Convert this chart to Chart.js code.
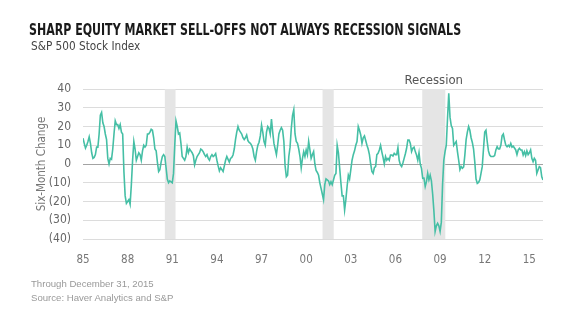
<!DOCTYPE html>
<html>
<head>
<meta charset="utf-8">
<script src="https://cdn.jsdelivr.net/npm/chart.js@4.4.1/dist/chart.umd.min.js"></script>
<style>
  html, body { margin:0; padding:0; background:#fff; }
  #wrap { position:relative; width:580px; height:325px; overflow:hidden; }
  #chart { position:absolute; left:0; top:0; }
  .txt { position:absolute; white-space:nowrap; }
  #title { left:29px; top:21px; font:bold 15.5px "Liberation Sans Narrow", "DejaVu Sans Condensed", sans-serif; color:#1a1a1a; transform-origin:0 0; }
  #sub { left:31px; top:39px; font:11.7px "Liberation Sans Narrow", "DejaVu Sans Condensed", sans-serif; color:#444; }
  #note1 { left:31px; top:278px; font:9.6px "Liberation Sans", Arial, sans-serif; color:#999; }
  #note2 { left:31px; top:292px; font:9.6px "Liberation Sans", Arial, sans-serif; color:#999; }
</style>
</head>
<body>
<div id="wrap">
  <canvas id="chart" width="580" height="325"></canvas>
  <div class="txt" id="title">SHARP EQUITY MARKET SELL-OFFS NOT ALWAYS RECESSION SIGNALS</div>
  <div class="txt" id="sub">S&amp;P 500 Stock Index</div>
  <div class="txt" id="note1">Through December 31, 2015</div>
  <div class="txt" id="note2">Source: Haver Analytics and S&amp;P</div>
</div>
<script>
// six-month % change, monthly, Jan 1985 - Dec 2015
var firstYear = 1985;
var chg1985_1994 = [
    13.7, 11, 8.5, 10, 12, 14.5, 11, 6, 3, 3.5, 5, 9,
    9, 16, 26, 27.5, 22, 20, 16, 13, 3, 0, 3, 2.5,
    8, 16, 23, 21, 21, 19, 21, 17, 16, -4, -17, -21,
    -20, -19, -21.5, -11, 2, 12, 8, 2, 4, 6, 5, 2,
    7, 10, 9, 10, 16, 16, 17, 18.5, 18, 14, 8, 7,
    1, -4, -3, 1, 4, 5, 4, -2, -8, -10, -9, -9.5,
    -10, -5, 10, 23, 20, 16, 16.5, 11, 4, 3, 2, 4,
    9, 6, 8, 7, 6, 4.5, -0.5, 2, 4, 5, 6, 8,
    7.5, 6.5, 5, 4, 5, 3, 2, 4, 5, 4, 4.5, 5.5,
    2, -1, -3.7, -2, -3, -4, -1, 2, 4, 2.5, 1, 3
];
var chg1995_2004 = [
    3.5, 4.8, 8, 13, 17, 20, 18, 17, 16, 14, 13, 14,
    15.5, 12.5, 11.5, 11, 10, 8, 4, 2, 6.6, 10, 11.6, 15,
    20.8, 17, 12, 10, 17, 20, 19, 16, 24, 17, 11, 8,
    5, 10, 16, 18, 19.4, 18, 12, -1, -6.8, -6, 4, 9,
    19, 26, 29, 16, 12, 11, 8, 4, -2, 3, 6.6, 4,
    7.5, 5, 12, 7.5, 3, 5, 6.6, 0, -3.5, -4.5, -6, -10,
    -13, -16, -19, -11, -8, -8.5, -9, -11, -9.5, -11, -8.5, -6,
    -5, 10, 6, -2, -10, -17, -17, -24.5, -19, -12, -6, -8,
    -3, 2, 5, 7, 10, 12, 20, 18, 15.5, 11, 14, 15,
    12.5, 10, 8, 5, 0, -4, -5, -2, -1.4, 5, 5.7, 7.5
];
var chg2005_2015 = [
    10, 6.5, 3.5, 0, 4, 2, 3, 2, 4.8, 4.8, 4.3, 5.7,
    5, 5, 8.7, 2, -0.5, -1.4, 0.5, 3, 5.5, 8.4, 12.8, 12.8,
    11, 6.6, 8.4, 9, 6.6, 4.8, 2, 6, 0, -2.3, -7.6, -7.5,
    -12, -9.4, -5, -8.5, -6, -9, -16, -25, -36, -33, -31.6, -33,
    -36, -31, -11, 2, 6.6, 10, 24.4, 37.7, 25, 20.5, 19, 10,
    11, 12, 6.6, 2, -3, -1.4, -2.3, -1.5, 5, 13, 17, 20,
    18, 14, 11.5, 8, 1, -8, -10.3, -9.8, -8.5, -5, -1.4, 8,
    17, 18, 12, 7, 4.8, 4, 4, 4, 4.5, 7.5, 9.2, 8,
    8, 10, 15, 16, 12.8, 10, 9.2, 10, 9.2, 11, 9, 9.5,
    8.5, 7.5, 5, 7.5, 8.4, 7.5, 7.5, 4.8, 6.6, 4.5, 7, 5,
    6, 7.5, 3, 1.2, 3, 2, -5, -3.2, -1.4, -2, -6.8, -8.5
];
var tickYears = [1985, 1988, 1991, 1994, 1997, 2000, 2003, 2006, 2009, 2012, 2015];
var yTicks = [40, 30, 20, 10, 0, -10, -20, -30, -40];
var recessionStart = [1990.5, 2001.1, 2007.8];
var recessionEnd = [1991.22, 2001.85, 2009.35];
var recessionLabel = ['', '', 'Recession'];

// squeeze the title to the width it has in the original
var titleEl = document.getElementById('title');
titleEl.style.transform = 'scaleX(' + (432 / titleEl.offsetWidth) + ')';

var allValues = chg1985_1994.concat(chg1995_2004, chg2005_2015);
var points = [];
for (var i = 0; i < allValues.length; i++) {
    points.push({x: firstYear + i/12, y: allValues[i]});
}

var narrow = '"Liberation Sans Narrow", "DejaVu Sans Condensed", sans-serif';

// grey bands for recessions, drawn under the line
var recessionBands = {
    id: 'recessionBands',
    beforeDatasetsDraw: function(chart) {
        var ctx = chart.ctx, xs = chart.scales.x, area = chart.chartArea;
        ctx.save();
        for (var k = 0; k < recessionStart.length; k++) {
            var x0 = xs.getPixelForValue(recessionStart[k]);
            var x1 = xs.getPixelForValue(recessionEnd[k]);
            ctx.fillStyle = '#e5e5e5';
            ctx.fillRect(x0, area.top, x1 - x0, area.bottom - area.top);
            if (recessionLabel[k]) {
                ctx.fillStyle = '#555';
                ctx.font = '13px ' + narrow;
                ctx.textAlign = 'center';
                ctx.textBaseline = 'alphabetic';
                ctx.fillText(recessionLabel[k], (x0 + x1) / 2, area.top - 5);
            }
        }
        ctx.restore();
    }
};

var chart = new Chart(document.getElementById('chart'), {
    type: 'line',
    data: {
        datasets: [{
            data: points,
            borderColor: '#45bfa5',
            borderWidth: 1.6,
            pointRadius: 0,
            tension: 0,
            fill: false
        }]
    },
    options: {
        responsive: false,
        animation: false,
        layout: { padding: { left: 0, right: 37, top: 89, bottom: 0 } },
        plugins: { legend: { display: false }, tooltip: { enabled: false } },
        scales: {
            x: {
                type: 'linear',
                min: firstYear,
                max: firstYear + (allValues.length - 1) / 12,
                afterBuildTicks: function(axis) {
                    axis.ticks = tickYears.map(function(v){ return {value: v}; });
                },
                afterFit: function(axis) { axis.height = 86; },
                grid: { display: false },
                border: { display: false },
                ticks: {
                    padding: 6,
                    maxRotation: 0,
                    autoSkip: false,
                    color: '#777',
                    font: { family: narrow, size: 11.5 },
                    callback: function(v) { return String(v).slice(2); }
                }
            },
            y: {
                min: -40,
                max: 40,
                afterBuildTicks: function(axis) {
                    axis.ticks = yTicks.map(function(v){ return {value: v}; });
                },
                afterFit: function(axis) { axis.width = 83; },
                border: { display: false },
                grid: {
                    drawTicks: false,
                    color: function(c) { return c.tick && c.tick.value === 0 ? '#a3a3a3' : '#dcdcdc'; },
                    lineWidth: 1
                },
                ticks: {
                    padding: 12,
                    color: '#666',
                    font: { family: narrow, size: 12 },
                    callback: function(v) { return v < 0 ? '(' + (-v) + ')' : String(v); }
                },
                title: {
                    display: true,
                    text: 'Six-Month Change',
                    color: '#777',
                    font: { family: narrow, size: 11.5 },
                    padding: { top: 35, bottom: 0 }
                }
            }
        }
    },
    plugins: [recessionBands]
});
</script>
</body>
</html>
